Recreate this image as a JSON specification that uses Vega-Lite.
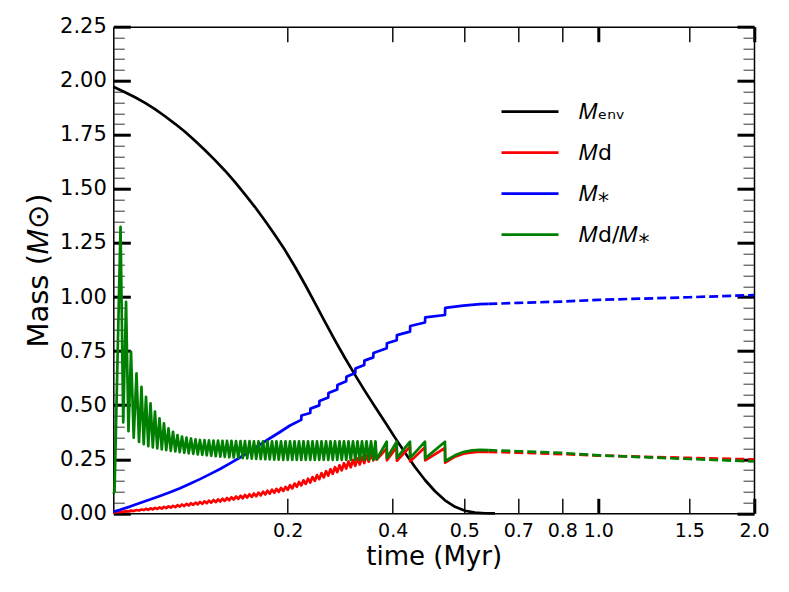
{
  "$schema": "https://vega.github.io/schema/vega-lite/v6.json",
  "width": 640.7,
  "height": 486.6,
  "autosize": {"type": "none"},
  "padding": {"left": 113.3, "top": 26.7, "right": 35, "bottom": 78.7},
  "background": "white",
  "datasets": {
    "solid": [
      {"series": "Menv", "time": 0, "mass": 1.972},
      {"series": "Menv", "time": 0.0134, "mass": 1.947},
      {"series": "Menv", "time": 0.0249, "mass": 1.924},
      {"series": "Menv", "time": 0.0364, "mass": 1.898},
      {"series": "Menv", "time": 0.0478, "mass": 1.869},
      {"series": "Menv", "time": 0.0593, "mass": 1.836},
      {"series": "Menv", "time": 0.0708, "mass": 1.801},
      {"series": "Menv", "time": 0.0822, "mass": 1.764},
      {"series": "Menv", "time": 0.0937, "mass": 1.723},
      {"series": "Menv", "time": 0.1052, "mass": 1.679},
      {"series": "Menv", "time": 0.1166, "mass": 1.633},
      {"series": "Menv", "time": 0.1281, "mass": 1.584},
      {"series": "Menv", "time": 0.1396, "mass": 1.531},
      {"series": "Menv", "time": 0.151, "mass": 1.475},
      {"series": "Menv", "time": 0.1625, "mass": 1.416},
      {"series": "Menv", "time": 0.174, "mass": 1.353},
      {"series": "Menv", "time": 0.1854, "mass": 1.287},
      {"series": "Menv", "time": 0.1969, "mass": 1.217},
      {"series": "Menv", "time": 0.2139, "mass": 1.14},
      {"series": "Menv", "time": 0.233, "mass": 1.058},
      {"series": "Menv", "time": 0.252, "mass": 0.972},
      {"series": "Menv", "time": 0.271, "mass": 0.885},
      {"series": "Menv", "time": 0.2901, "mass": 0.8},
      {"series": "Menv", "time": 0.3091, "mass": 0.718},
      {"series": "Menv", "time": 0.3282, "mass": 0.64},
      {"series": "Menv", "time": 0.3472, "mass": 0.565},
      {"series": "Menv", "time": 0.3663, "mass": 0.493},
      {"series": "Menv", "time": 0.3853, "mass": 0.422},
      {"series": "Menv", "time": 0.4032, "mass": 0.35},
      {"series": "Menv", "time": 0.4172, "mass": 0.28},
      {"series": "Menv", "time": 0.4311, "mass": 0.214},
      {"series": "Menv", "time": 0.4451, "mass": 0.154},
      {"series": "Menv", "time": 0.4591, "mass": 0.102},
      {"series": "Menv", "time": 0.473, "mass": 0.06},
      {"series": "Menv", "time": 0.487, "mass": 0.03},
      {"series": "Menv", "time": 0.5026, "mass": 0.012},
      {"series": "Menv", "time": 0.5396, "mass": 0.003},
      {"series": "Menv", "time": 0.5767, "mass": 0.0003},
      {"series": "Menv", "time": 0.6137, "mass": 0},

      {"series": "Md", "time": 0, "mass": 0.003},
      {"series": "Md", "time": 0.0083, "mass": 0.0075},
      {"series": "Md", "time": 0.0114, "mass": 0.0064},
      {"series": "Md", "time": 0.0146, "mass": 0.0102},
      {"series": "Md", "time": 0.0174, "mass": 0.0083},
      {"series": "Md", "time": 0.0203, "mass": 0.0126},
      {"series": "Md", "time": 0.0234, "mass": 0.0105},
      {"series": "Md", "time": 0.0266, "mass": 0.0153},
      {"series": "Md", "time": 0.0295, "mass": 0.0127},
      {"series": "Md", "time": 0.0323, "mass": 0.0177},
      {"series": "Md", "time": 0.0349, "mass": 0.015},
      {"series": "Md", "time": 0.0375, "mass": 0.0205},
      {"series": "Md", "time": 0.0401, "mass": 0.0161},
      {"series": "Md", "time": 0.0427, "mass": 0.023},
      {"series": "Md", "time": 0.0453, "mass": 0.0179},
      {"series": "Md", "time": 0.0478, "mass": 0.0253},
      {"series": "Md", "time": 0.0504, "mass": 0.0199},
      {"series": "Md", "time": 0.053, "mass": 0.0276},
      {"series": "Md", "time": 0.0556, "mass": 0.0218},
      {"series": "Md", "time": 0.0581, "mass": 0.03},
      {"series": "Md", "time": 0.0607, "mass": 0.0238},
      {"series": "Md", "time": 0.0633, "mass": 0.0322},
      {"series": "Md", "time": 0.0659, "mass": 0.0258},
      {"series": "Md", "time": 0.0685, "mass": 0.0347},
      {"series": "Md", "time": 0.0711, "mass": 0.0283},
      {"series": "Md", "time": 0.0736, "mass": 0.0377},
      {"series": "Md", "time": 0.0762, "mass": 0.0309},
      {"series": "Md", "time": 0.0788, "mass": 0.0407},
      {"series": "Md", "time": 0.0814, "mass": 0.0335},
      {"series": "Md", "time": 0.0839, "mass": 0.0436},
      {"series": "Md", "time": 0.0865, "mass": 0.0361},
      {"series": "Md", "time": 0.0891, "mass": 0.0466},
      {"series": "Md", "time": 0.0917, "mass": 0.0388},
      {"series": "Md", "time": 0.0943, "mass": 0.0496},
      {"series": "Md", "time": 0.0969, "mass": 0.0414},
      {"series": "Md", "time": 0.0994, "mass": 0.0525},
      {"series": "Md", "time": 0.102, "mass": 0.0439},
      {"series": "Md", "time": 0.1046, "mass": 0.0555},
      {"series": "Md", "time": 0.1072, "mass": 0.0465},
      {"series": "Md", "time": 0.1097, "mass": 0.0585},
      {"series": "Md", "time": 0.1123, "mass": 0.0491},
      {"series": "Md", "time": 0.1149, "mass": 0.0615},
      {"series": "Md", "time": 0.1175, "mass": 0.0517},
      {"series": "Md", "time": 0.1201, "mass": 0.0644},
      {"series": "Md", "time": 0.1227, "mass": 0.0544},
      {"series": "Md", "time": 0.1252, "mass": 0.0675},
      {"series": "Md", "time": 0.1278, "mass": 0.0573},
      {"series": "Md", "time": 0.1304, "mass": 0.0709},
      {"series": "Md", "time": 0.133, "mass": 0.0603},
      {"series": "Md", "time": 0.1355, "mass": 0.0743},
      {"series": "Md", "time": 0.1381, "mass": 0.0635},
      {"series": "Md", "time": 0.1407, "mass": 0.0778},
      {"series": "Md", "time": 0.1433, "mass": 0.0665},
      {"series": "Md", "time": 0.1459, "mass": 0.0812},
      {"series": "Md", "time": 0.1485, "mass": 0.0696},
      {"series": "Md", "time": 0.151, "mass": 0.0846},
      {"series": "Md", "time": 0.1536, "mass": 0.0726},
      {"series": "Md", "time": 0.1562, "mass": 0.088},
      {"series": "Md", "time": 0.1588, "mass": 0.0757},
      {"series": "Md", "time": 0.1613, "mass": 0.0914},
      {"series": "Md", "time": 0.1639, "mass": 0.079},
      {"series": "Md", "time": 0.1665, "mass": 0.0956},
      {"series": "Md", "time": 0.1691, "mass": 0.083},
      {"series": "Md", "time": 0.1717, "mass": 0.1},
      {"series": "Md", "time": 0.1743, "mass": 0.087},
      {"series": "Md", "time": 0.1768, "mass": 0.1044},
      {"series": "Md", "time": 0.1794, "mass": 0.091},
      {"series": "Md", "time": 0.182, "mass": 0.1088},
      {"series": "Md", "time": 0.1846, "mass": 0.095},
      {"series": "Md", "time": 0.1871, "mass": 0.1132},
      {"series": "Md", "time": 0.1897, "mass": 0.099},
      {"series": "Md", "time": 0.1923, "mass": 0.1177},
      {"series": "Md", "time": 0.1949, "mass": 0.103},
      {"series": "Md", "time": 0.1975, "mass": 0.1224},
      {"series": "Md", "time": 0.2001, "mass": 0.1086},
      {"series": "Md", "time": 0.2044, "mass": 0.13},
      {"series": "Md", "time": 0.2087, "mass": 0.1154},
      {"series": "Md", "time": 0.213, "mass": 0.1375},
      {"series": "Md", "time": 0.2173, "mass": 0.1223},
      {"series": "Md", "time": 0.2215, "mass": 0.145},
      {"series": "Md", "time": 0.2258, "mass": 0.1289},
      {"series": "Md", "time": 0.2301, "mass": 0.1526},
      {"series": "Md", "time": 0.2344, "mass": 0.1357},
      {"series": "Md", "time": 0.2387, "mass": 0.1601},
      {"series": "Md", "time": 0.243, "mass": 0.1425},
      {"series": "Md", "time": 0.2473, "mass": 0.1677},
      {"series": "Md", "time": 0.2516, "mass": 0.1496},
      {"series": "Md", "time": 0.2558, "mass": 0.1766},
      {"series": "Md", "time": 0.2601, "mass": 0.1577},
      {"series": "Md", "time": 0.2644, "mass": 0.1857},
      {"series": "Md", "time": 0.2687, "mass": 0.1659},
      {"series": "Md", "time": 0.273, "mass": 0.1949},
      {"series": "Md", "time": 0.2773, "mass": 0.1741},
      {"series": "Md", "time": 0.2815, "mass": 0.2041},
      {"series": "Md", "time": 0.2858, "mass": 0.1822},
      {"series": "Md", "time": 0.2901, "mass": 0.2133},
      {"series": "Md", "time": 0.2944, "mass": 0.1904},
      {"series": "Md", "time": 0.2987, "mass": 0.2224},
      {"series": "Md", "time": 0.303, "mass": 0.1985},
      {"series": "Md", "time": 0.3072, "mass": 0.2316},
      {"series": "Md", "time": 0.3115, "mass": 0.2067},
      {"series": "Md", "time": 0.3158, "mass": 0.2398},
      {"series": "Md", "time": 0.3201, "mass": 0.213},
      {"series": "Md", "time": 0.3244, "mass": 0.2469},
      {"series": "Md", "time": 0.3287, "mass": 0.2194},
      {"series": "Md", "time": 0.333, "mass": 0.254},
      {"series": "Md", "time": 0.3373, "mass": 0.2258},
      {"series": "Md", "time": 0.3415, "mass": 0.261},
      {"series": "Md", "time": 0.3458, "mass": 0.2323},
      {"series": "Md", "time": 0.3501, "mass": 0.2681},
      {"series": "Md", "time": 0.3544, "mass": 0.2387},
      {"series": "Md", "time": 0.3587, "mass": 0.2751},
      {"series": "Md", "time": 0.363, "mass": 0.2451},
      {"series": "Md", "time": 0.3672, "mass": 0.2822},
      {"series": "Md", "time": 0.3695, "mass": 0.248},
      {"series": "Md", "time": 0.3886, "mass": 0.3},
      {"series": "Md", "time": 0.389, "mass": 0.245},
      {"series": "Md", "time": 0.4056, "mass": 0.306},
      {"series": "Md", "time": 0.4059, "mass": 0.243},
      {"series": "Md", "time": 0.4242, "mass": 0.308},
      {"series": "Md", "time": 0.4245, "mass": 0.24},
      {"series": "Md", "time": 0.4451, "mass": 0.305},
      {"series": "Md", "time": 0.4454, "mass": 0.245},
      {"series": "Md", "time": 0.473, "mass": 0.302},
      {"series": "Md", "time": 0.4733, "mass": 0.234},
      {"series": "Md", "time": 0.487, "mass": 0.262},
      {"series": "Md", "time": 0.4986, "mass": 0.276},
      {"series": "Md", "time": 0.5285, "mass": 0.282},
      {"series": "Md", "time": 0.5581, "mass": 0.285},
      {"series": "Md", "time": 0.5889, "mass": 0.284},

      {"series": "Mstar", "time": 0, "mass": 0.007},
      {"series": "Mstar", "time": 0.0077, "mass": 0.016},
      {"series": "Mstar", "time": 0.0191, "mass": 0.031},
      {"series": "Mstar", "time": 0.0306, "mass": 0.048},
      {"series": "Mstar", "time": 0.0421, "mass": 0.064},
      {"series": "Mstar", "time": 0.0535, "mass": 0.08},
      {"series": "Mstar", "time": 0.065, "mass": 0.097},
      {"series": "Mstar", "time": 0.0765, "mass": 0.116},
      {"series": "Mstar", "time": 0.0879, "mass": 0.137},
      {"series": "Mstar", "time": 0.0994, "mass": 0.158},
      {"series": "Mstar", "time": 0.1109, "mass": 0.181},
      {"series": "Mstar", "time": 0.1224, "mass": 0.205},
      {"series": "Mstar", "time": 0.1338, "mass": 0.231},
      {"series": "Mstar", "time": 0.1453, "mass": 0.258},
      {"series": "Mstar", "time": 0.1568, "mass": 0.287},
      {"series": "Mstar", "time": 0.1682, "mass": 0.317},
      {"series": "Mstar", "time": 0.1797, "mass": 0.347},
      {"series": "Mstar", "time": 0.1912, "mass": 0.376},
      {"series": "Mstar", "time": 0.2044, "mass": 0.406},
      {"series": "Mstar", "time": 0.2258, "mass": 0.432},
      {"series": "Mstar", "time": 0.2261, "mass": 0.452},
      {"series": "Mstar", "time": 0.243, "mass": 0.464},
      {"series": "Mstar", "time": 0.2433, "mass": 0.484},
      {"series": "Mstar", "time": 0.2601, "mass": 0.499},
      {"series": "Mstar", "time": 0.2604, "mass": 0.519},
      {"series": "Mstar", "time": 0.2773, "mass": 0.536},
      {"series": "Mstar", "time": 0.2776, "mass": 0.556},
      {"series": "Mstar", "time": 0.2944, "mass": 0.573},
      {"series": "Mstar", "time": 0.2947, "mass": 0.593},
      {"series": "Mstar", "time": 0.3115, "mass": 0.611},
      {"series": "Mstar", "time": 0.3118, "mass": 0.631},
      {"series": "Mstar", "time": 0.3287, "mass": 0.649},
      {"series": "Mstar", "time": 0.329, "mass": 0.669},
      {"series": "Mstar", "time": 0.3458, "mass": 0.686},
      {"series": "Mstar", "time": 0.3461, "mass": 0.706},
      {"series": "Mstar", "time": 0.363, "mass": 0.721},
      {"series": "Mstar", "time": 0.3633, "mass": 0.741},
      {"series": "Mstar", "time": 0.3886, "mass": 0.763},
      {"series": "Mstar", "time": 0.389, "mass": 0.786},
      {"series": "Mstar", "time": 0.4056, "mass": 0.8},
      {"series": "Mstar", "time": 0.4059, "mass": 0.824},
      {"series": "Mstar", "time": 0.4242, "mass": 0.84},
      {"series": "Mstar", "time": 0.4245, "mass": 0.866},
      {"series": "Mstar", "time": 0.4451, "mass": 0.882},
      {"series": "Mstar", "time": 0.4454, "mass": 0.906},
      {"series": "Mstar", "time": 0.473, "mass": 0.917},
      {"series": "Mstar", "time": 0.4733, "mass": 0.95},
      {"series": "Mstar", "time": 0.4986, "mass": 0.96},
      {"series": "Mstar", "time": 0.5581, "mass": 0.967},
      {"series": "Mstar", "time": 0.5889, "mass": 0.968},

      {"series": "Md/Mstar", "time": 0, "mass": 0.09},
      {"series": "Md/Mstar", "time": 0.0014, "mass": 0.1},
      {"series": "Md/Mstar", "time": 0.0083, "mass": 1.325},
      {"series": "Md/Mstar", "time": 0.0114, "mass": 0.42},
      {"series": "Md/Mstar", "time": 0.0146, "mass": 0.978},
      {"series": "Md/Mstar", "time": 0.0174, "mass": 0.38},
      {"series": "Md/Mstar", "time": 0.0203, "mass": 0.747},
      {"series": "Md/Mstar", "time": 0.0234, "mass": 0.35},
      {"series": "Md/Mstar", "time": 0.0266, "mass": 0.647},
      {"series": "Md/Mstar", "time": 0.0295, "mass": 0.33},
      {"series": "Md/Mstar", "time": 0.0323, "mass": 0.585},
      {"series": "Md/Mstar", "time": 0.0349, "mass": 0.32},
      {"series": "Md/Mstar", "time": 0.0375, "mass": 0.539},
      {"series": "Md/Mstar", "time": 0.0401, "mass": 0.31},
      {"series": "Md/Mstar", "time": 0.0427, "mass": 0.508},
      {"series": "Md/Mstar", "time": 0.0453, "mass": 0.305},
      {"series": "Md/Mstar", "time": 0.0478, "mass": 0.47},
      {"series": "Md/Mstar", "time": 0.0504, "mass": 0.3},
      {"series": "Md/Mstar", "time": 0.053, "mass": 0.439},
      {"series": "Md/Mstar", "time": 0.0556, "mass": 0.296},
      {"series": "Md/Mstar", "time": 0.0581, "mass": 0.416},
      {"series": "Md/Mstar", "time": 0.0607, "mass": 0.292},
      {"series": "Md/Mstar", "time": 0.0633, "mass": 0.393},
      {"series": "Md/Mstar", "time": 0.0659, "mass": 0.289},
      {"series": "Md/Mstar", "time": 0.0685, "mass": 0.377},
      {"series": "Md/Mstar", "time": 0.0711, "mass": 0.286},
      {"series": "Md/Mstar", "time": 0.0736, "mass": 0.362},
      {"series": "Md/Mstar", "time": 0.0762, "mass": 0.283},
      {"series": "Md/Mstar", "time": 0.0788, "mass": 0.355},
      {"series": "Md/Mstar", "time": 0.0814, "mass": 0.28},
      {"series": "Md/Mstar", "time": 0.0839, "mass": 0.35},
      {"series": "Md/Mstar", "time": 0.0865, "mass": 0.277},
      {"series": "Md/Mstar", "time": 0.0891, "mass": 0.346},
      {"series": "Md/Mstar", "time": 0.0917, "mass": 0.275},
      {"series": "Md/Mstar", "time": 0.0943, "mass": 0.342},
      {"series": "Md/Mstar", "time": 0.0969, "mass": 0.272},
      {"series": "Md/Mstar", "time": 0.0994, "mass": 0.339},
      {"series": "Md/Mstar", "time": 0.102, "mass": 0.27},
      {"series": "Md/Mstar", "time": 0.1046, "mass": 0.338},
      {"series": "Md/Mstar", "time": 0.1072, "mass": 0.268},
      {"series": "Md/Mstar", "time": 0.1097, "mass": 0.337},
      {"series": "Md/Mstar", "time": 0.1123, "mass": 0.266},
      {"series": "Md/Mstar", "time": 0.1149, "mass": 0.336},
      {"series": "Md/Mstar", "time": 0.1175, "mass": 0.264},
      {"series": "Md/Mstar", "time": 0.1201, "mass": 0.336},
      {"series": "Md/Mstar", "time": 0.1227, "mass": 0.262},
      {"series": "Md/Mstar", "time": 0.1252, "mass": 0.335},
      {"series": "Md/Mstar", "time": 0.1278, "mass": 0.261},
      {"series": "Md/Mstar", "time": 0.1304, "mass": 0.335},
      {"series": "Md/Mstar", "time": 0.133, "mass": 0.259},
      {"series": "Md/Mstar", "time": 0.1355, "mass": 0.335},
      {"series": "Md/Mstar", "time": 0.1381, "mass": 0.258},
      {"series": "Md/Mstar", "time": 0.1407, "mass": 0.334},
      {"series": "Md/Mstar", "time": 0.1433, "mass": 0.257},
      {"series": "Md/Mstar", "time": 0.1459, "mass": 0.334},
      {"series": "Md/Mstar", "time": 0.1485, "mass": 0.255},
      {"series": "Md/Mstar", "time": 0.151, "mass": 0.334},
      {"series": "Md/Mstar", "time": 0.1536, "mass": 0.254},
      {"series": "Md/Mstar", "time": 0.1562, "mass": 0.334},
      {"series": "Md/Mstar", "time": 0.1588, "mass": 0.253},
      {"series": "Md/Mstar", "time": 0.1613, "mass": 0.333},
      {"series": "Md/Mstar", "time": 0.1639, "mass": 0.252},
      {"series": "Md/Mstar", "time": 0.1665, "mass": 0.333},
      {"series": "Md/Mstar", "time": 0.1691, "mass": 0.251},
      {"series": "Md/Mstar", "time": 0.1717, "mass": 0.333},
      {"series": "Md/Mstar", "time": 0.1743, "mass": 0.25},
      {"series": "Md/Mstar", "time": 0.1768, "mass": 0.333},
      {"series": "Md/Mstar", "time": 0.1794, "mass": 0.249},
      {"series": "Md/Mstar", "time": 0.182, "mass": 0.333},
      {"series": "Md/Mstar", "time": 0.1846, "mass": 0.248},
      {"series": "Md/Mstar", "time": 0.1871, "mass": 0.333},
      {"series": "Md/Mstar", "time": 0.1897, "mass": 0.248},
      {"series": "Md/Mstar", "time": 0.1923, "mass": 0.333},
      {"series": "Md/Mstar", "time": 0.1949, "mass": 0.247},
      {"series": "Md/Mstar", "time": 0.1975, "mass": 0.333},
      {"series": "Md/Mstar", "time": 0.2001, "mass": 0.247},
      {"series": "Md/Mstar", "time": 0.2044, "mass": 0.333},
      {"series": "Md/Mstar", "time": 0.2087, "mass": 0.247},
      {"series": "Md/Mstar", "time": 0.213, "mass": 0.333},
      {"series": "Md/Mstar", "time": 0.2173, "mass": 0.247},
      {"series": "Md/Mstar", "time": 0.2215, "mass": 0.333},
      {"series": "Md/Mstar", "time": 0.2258, "mass": 0.247},
      {"series": "Md/Mstar", "time": 0.2301, "mass": 0.333},
      {"series": "Md/Mstar", "time": 0.2344, "mass": 0.247},
      {"series": "Md/Mstar", "time": 0.2387, "mass": 0.333},
      {"series": "Md/Mstar", "time": 0.243, "mass": 0.247},
      {"series": "Md/Mstar", "time": 0.2473, "mass": 0.333},
      {"series": "Md/Mstar", "time": 0.2516, "mass": 0.247},
      {"series": "Md/Mstar", "time": 0.2558, "mass": 0.333},
      {"series": "Md/Mstar", "time": 0.2601, "mass": 0.247},
      {"series": "Md/Mstar", "time": 0.2644, "mass": 0.333},
      {"series": "Md/Mstar", "time": 0.2687, "mass": 0.247},
      {"series": "Md/Mstar", "time": 0.273, "mass": 0.333},
      {"series": "Md/Mstar", "time": 0.2773, "mass": 0.247},
      {"series": "Md/Mstar", "time": 0.2815, "mass": 0.333},
      {"series": "Md/Mstar", "time": 0.2858, "mass": 0.247},
      {"series": "Md/Mstar", "time": 0.2901, "mass": 0.333},
      {"series": "Md/Mstar", "time": 0.2944, "mass": 0.247},
      {"series": "Md/Mstar", "time": 0.2987, "mass": 0.333},
      {"series": "Md/Mstar", "time": 0.303, "mass": 0.247},
      {"series": "Md/Mstar", "time": 0.3072, "mass": 0.333},
      {"series": "Md/Mstar", "time": 0.3115, "mass": 0.247},
      {"series": "Md/Mstar", "time": 0.3158, "mass": 0.333},
      {"series": "Md/Mstar", "time": 0.3201, "mass": 0.247},
      {"series": "Md/Mstar", "time": 0.3244, "mass": 0.333},
      {"series": "Md/Mstar", "time": 0.3287, "mass": 0.247},
      {"series": "Md/Mstar", "time": 0.333, "mass": 0.333},
      {"series": "Md/Mstar", "time": 0.3373, "mass": 0.247},
      {"series": "Md/Mstar", "time": 0.3415, "mass": 0.333},
      {"series": "Md/Mstar", "time": 0.3458, "mass": 0.247},
      {"series": "Md/Mstar", "time": 0.3501, "mass": 0.333},
      {"series": "Md/Mstar", "time": 0.3544, "mass": 0.247},
      {"series": "Md/Mstar", "time": 0.3587, "mass": 0.333},
      {"series": "Md/Mstar", "time": 0.363, "mass": 0.247},
      {"series": "Md/Mstar", "time": 0.3672, "mass": 0.333},
      {"series": "Md/Mstar", "time": 0.3695, "mass": 0.25},
      {"series": "Md/Mstar", "time": 0.3886, "mass": 0.331},
      {"series": "Md/Mstar", "time": 0.389, "mass": 0.256},
      {"series": "Md/Mstar", "time": 0.4056, "mass": 0.331},
      {"series": "Md/Mstar", "time": 0.4059, "mass": 0.256},
      {"series": "Md/Mstar", "time": 0.4242, "mass": 0.331},
      {"series": "Md/Mstar", "time": 0.4245, "mass": 0.256},
      {"series": "Md/Mstar", "time": 0.4451, "mass": 0.331},
      {"series": "Md/Mstar", "time": 0.4454, "mass": 0.254},
      {"series": "Md/Mstar", "time": 0.473, "mass": 0.331},
      {"series": "Md/Mstar", "time": 0.4733, "mass": 0.242},
      {"series": "Md/Mstar", "time": 0.487, "mass": 0.268},
      {"series": "Md/Mstar", "time": 0.4986, "mass": 0.283},
      {"series": "Md/Mstar", "time": 0.5285, "mass": 0.291},
      {"series": "Md/Mstar", "time": 0.5581, "mass": 0.293},
      {"series": "Md/Mstar", "time": 0.5889, "mass": 0.292}
    ],
    "dashed": [
      {"series": "Md", "time": 0.5889, "mass": 0.284},
      {"series": "Md", "time": 0.7, "mass": 0.28},
      {"series": "Md", "time": 0.8, "mass": 0.274},
      {"series": "Md", "time": 1.0, "mass": 0.267},
      {"series": "Md", "time": 1.5, "mass": 0.256},
      {"series": "Md", "time": 2.0, "mass": 0.249},
      {"series": "Mstar", "time": 0.5889, "mass": 0.968},
      {"series": "Mstar", "time": 0.7, "mass": 0.973},
      {"series": "Mstar", "time": 0.8, "mass": 0.979},
      {"series": "Mstar", "time": 1.0, "mass": 0.987},
      {"series": "Mstar", "time": 1.5, "mass": 0.999},
      {"series": "Mstar", "time": 2.0, "mass": 1.009},
      {"series": "Md/Mstar", "time": 0.5889, "mass": 0.292},
      {"series": "Md/Mstar", "time": 0.7, "mass": 0.287},
      {"series": "Md/Mstar", "time": 0.8, "mass": 0.279},
      {"series": "Md/Mstar", "time": 1.0, "mass": 0.268},
      {"series": "Md/Mstar", "time": 1.5, "mass": 0.251},
      {"series": "Md/Mstar", "time": 2.0, "mass": 0.24}
    ]
  },
  "layer": [
    {
      "data": {"name": "solid"},
      "transform": [{"filter": "datum.series == 'Menv'"}],
      "mark": {"type": "line", "strokeWidth": 2.7, "strokeJoin": "round"},
      "encoding": {
        "x": {
          "field": "time", "type": "quantitative",
          "scale": {"type": "linear", "domain": [0, 0.2, 0.4, 0.5, 0.7, 0.8, 1, 1.5, 2], "range": [0, 174.4, 279.4, 351, 405, 449, 485, 576, 640.7], "nice": false, "zero": false},
          "axis": {
            "orient": "bottom",
            "values": [0.2, 0.4, 0.5, 0.7, 0.8, 1, 1.5, 2],
            "labelExpr": "format(datum.value, '.1f')",
            "labelFontSize": 19,
            "tickSize": -15,
            "tickWidth": {"condition": {"test": "datum.value == 1 || datum.value == 2", "value": 3}, "value": 1.4},
            "labelPadding": 23.5,
            "title": "time (Myr)",
            "titlePadding": 3
          }
        },
        "y": {
          "field": "mass", "type": "quantitative",
          "scale": {"domain": [0, 2.25], "nice": false, "zero": false},
          "axis": {
            "orient": "left",
            "values": [0, 0.25, 0.5, 0.75, 1, 1.25, 1.5, 1.75, 2, 2.25],
            "format": ".2f",
            "labelFontSize": 21,
            "tickSize": -17,
            "tickWidth": 3,
            "labelPadding": 24,
            "title": "Mass (𝑀⊙)",
            "titleFontSize": 29,
            "titlePadding": 6
          }
        },
        "color": {
          "field": "series", "type": "nominal",
          "scale": {"domain": ["Menv", "Md", "Mstar", "Md/Mstar"], "range": ["#000000", "#ff0000", "#0000ff", "#008000"]},
          "legend": {
            "title": null,
            "orient": "none",
            "legendX": 386.7,
            "legendY": 55,
            "padding": 0,
            "symbolType": "stroke",
            "symbolSize": 3249,
            "symbolStrokeWidth": 2.7,
            "labelFontSize": 22,
            "labelOffset": 19,
            "rowPadding": -17,
            "labelExpr": "datum.label == 'Menv' ? '𝑀ₑₙᵥ' : datum.label == 'Md' ? '𝑀d' : datum.label == 'Mstar' ? '𝑀⁎' : '𝑀d/𝑀⁎'"
          }
        }
      }
    },
    {
      "data": {"name": "solid"},
      "transform": [{"filter": "datum.series == 'Md'"}],
      "mark": {"type": "line", "strokeWidth": 2.7, "strokeJoin": "round"},
      "encoding": {
        "x": {
          "field": "time", "type": "quantitative",
          "scale": {"type": "linear", "domain": [0, 0.2, 0.4, 0.5, 0.7, 0.8, 1, 1.5, 2], "range": [0, 174.4, 279.4, 351, 405, 449, 485, 576, 640.7], "nice": false, "zero": false},
          "axis": {
            "orient": "top",
            "values": [0.2, 0.4, 0.5, 0.7, 0.8, 1, 1.5, 2],
            "labels": false,
            "tickSize": -15,
            "tickWidth": {"condition": {"test": "datum.value == 1 || datum.value == 2", "value": 3}, "value": 1.4},
            "title": null
          }
        },
        "y": {
          "field": "mass", "type": "quantitative",
          "scale": {"domain": [0, 2.25], "nice": false, "zero": false},
          "axis": {
            "orient": "left",
            "values": [0.05, 0.1, 0.15, 0.2, 0.3, 0.35, 0.4, 0.45, 0.55, 0.6, 0.65, 0.7, 0.8, 0.85, 0.9, 0.95, 1.05, 1.1, 1.15, 1.2, 1.3, 1.35, 1.4, 1.45, 1.55, 1.6, 1.65, 1.7, 1.8, 1.85, 1.9, 1.95, 2.05, 2.1, 2.15, 2.2],
            "labels": false,
            "domain": false,
            "tickSize": -11,
            "tickWidth": 1,
            "tickColor": "#333333",
            "title": null
          }
        },
        "color": {
          "field": "series", "type": "nominal",
          "scale": {"domain": ["Menv", "Md", "Mstar", "Md/Mstar"], "range": ["#000000", "#ff0000", "#0000ff", "#008000"]},
          "legend": null
        }
      }
    },
    {
      "data": {"name": "solid"},
      "transform": [{"filter": "datum.series == 'Mstar'"}],
      "mark": {"type": "line", "strokeWidth": 2.7, "strokeJoin": "round"},
      "encoding": {
        "x": {
          "field": "time", "type": "quantitative",
          "scale": {"type": "linear", "domain": [0, 0.2, 0.4, 0.5, 0.7, 0.8, 1, 1.5, 2], "range": [0, 174.4, 279.4, 351, 405, 449, 485, 576, 640.7], "nice": false, "zero": false},
          "axis": null
        },
        "y": {
          "field": "mass", "type": "quantitative",
          "scale": {"domain": [0, 2.25], "nice": false, "zero": false},
          "axis": {
            "orient": "right",
            "values": [0, 0.25, 0.5, 0.75, 1, 1.25, 1.5, 1.75, 2, 2.25],
            "labels": false,
            "tickSize": -17,
            "tickWidth": 3,
            "title": null
          }
        },
        "color": {
          "field": "series", "type": "nominal",
          "scale": {"domain": ["Menv", "Md", "Mstar", "Md/Mstar"], "range": ["#000000", "#ff0000", "#0000ff", "#008000"]},
          "legend": null
        }
      }
    },
    {
      "data": {"name": "solid"},
      "transform": [{"filter": "datum.series == 'Md/Mstar'"}],
      "mark": {"type": "line", "strokeWidth": 2.7, "strokeJoin": "round"},
      "encoding": {
        "x": {
          "field": "time", "type": "quantitative",
          "scale": {"type": "linear", "domain": [0, 0.2, 0.4, 0.5, 0.7, 0.8, 1, 1.5, 2], "range": [0, 174.4, 279.4, 351, 405, 449, 485, 576, 640.7], "nice": false, "zero": false},
          "axis": null
        },
        "y": {
          "field": "mass", "type": "quantitative",
          "scale": {"domain": [0, 2.25], "nice": false, "zero": false},
          "axis": {
            "orient": "right",
            "values": [0.05, 0.1, 0.15, 0.2, 0.3, 0.35, 0.4, 0.45, 0.55, 0.6, 0.65, 0.7, 0.8, 0.85, 0.9, 0.95, 1.05, 1.1, 1.15, 1.2, 1.3, 1.35, 1.4, 1.45, 1.55, 1.6, 1.65, 1.7, 1.8, 1.85, 1.9, 1.95, 2.05, 2.1, 2.15, 2.2],
            "labels": false,
            "domain": false,
            "tickSize": -11,
            "tickWidth": 1,
            "tickColor": "#333333",
            "title": null
          }
        },
        "color": {
          "field": "series", "type": "nominal",
          "scale": {"domain": ["Menv", "Md", "Mstar", "Md/Mstar"], "range": ["#000000", "#ff0000", "#0000ff", "#008000"]},
          "legend": null
        }
      }
    },
    {
      "data": {"name": "dashed"},
      "mark": {"type": "line", "strokeWidth": 2.7, "strokeDash": [9, 4]},
      "encoding": {
        "x": {
          "field": "time", "type": "quantitative",
          "scale": {"type": "linear", "domain": [0, 0.2, 0.4, 0.5, 0.7, 0.8, 1, 1.5, 2], "range": [0, 174.4, 279.4, 351, 405, 449, 485, 576, 640.7], "nice": false, "zero": false},
          "axis": null
        },
        "y": {
          "field": "mass", "type": "quantitative",
          "scale": {"domain": [0, 2.25], "nice": false, "zero": false},
          "axis": null
        },
        "color": {
          "field": "series", "type": "nominal",
          "scale": {"domain": ["Menv", "Md", "Mstar", "Md/Mstar"], "range": ["#000000", "#ff0000", "#0000ff", "#008000"]},
          "legend": null
        }
      }
    }
  ],
  "resolve": {"axis": {"x": "independent", "y": "independent"}},
  "config": {
    "view": {"stroke": null},
    "font": "DejaVu Sans",
    "axis": {
      "grid": false,
      "domainColor": "#000000",
      "domainWidth": 1.5,
      "tickColor": "#000000",
      "tickCap": "butt",
      "labelColor": "#000000",
      "titleColor": "#000000",
      "labelFont": "DejaVu Sans",
      "titleFont": "DejaVu Sans",
      "labelFontSize": 17,
      "titleFontSize": 26,
      "titleFontWeight": "normal",
      "labelOverlap": false,
      "labelFlush": false
    },
    "legend": {
      "labelFont": "DejaVu Sans",
      "labelColor": "#000000"
    }
  }
}
